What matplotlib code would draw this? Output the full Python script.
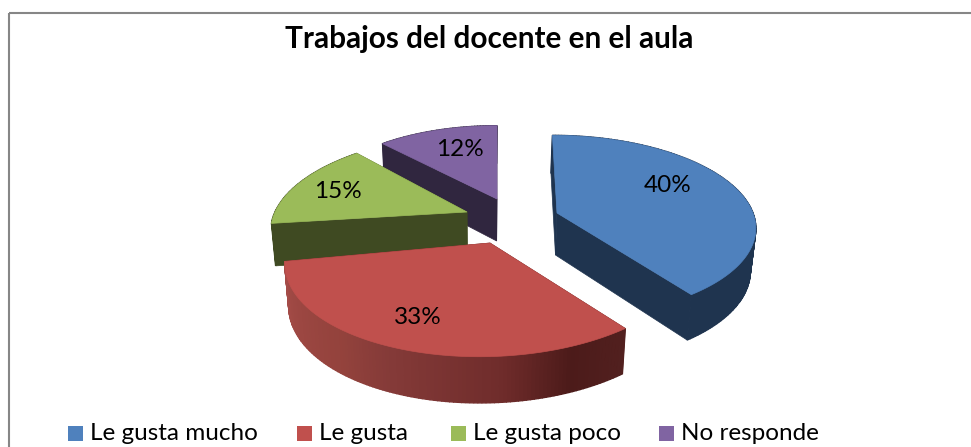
import numpy as np
import matplotlib
matplotlib.use('Agg')
import matplotlib.pyplot as plt
from matplotlib.patches import Polygon, Rectangle

# datos
categorias = ['Le gusta mucho', 'Le gusta', 'Le gusta poco', 'No responde']
valores = [40, 33, 15, 12]
etiquetas = ['40%', '33%', '15%', '12%']
titulo = 'Trabajos del docente en el aula'

COLORES = ['#4f81bd', '#c0504d', '#9bbb59', '#8064a2']
LATERAL = ['#1f344f', '#4f1b18', '#3f4a22', '#30263f']

# apice de cada porcion (pixeles) y centro de cada etiqueta
APICE = [(557, 213), (490, 243), (467, 212), (497, 199)]
POS_ETIQ = [(668, 186), (418, 317), (338, 191), (460, 149)]
POS_LEY = [68, 297, 451, 659]

# ajuste de cada porcion: ancho, alto, inclinacion, sesgo
ANCHO = [196, 203, 192, 185]
FONDO = [89, 97, 89, 84]
INCL = [0, 6, 0, 0]
SESGO = [4.6, 0, -12, 0]

K = 0.146
ALTO = 42

plt.rcParams['font.family'] = ['Lato', 'DejaVu Sans']

fig = plt.figure(figsize=(9.71, 4.47), dpi=100, facecolor='white')
ax = fig.add_axes([0, 0, 1, 1])
ax.set_xlim(0, 971)
ax.set_ylim(447, 0)
ax.axis('off')


def proyectar(i, ang, radio, abajo=False):
    # angulo en sentido horario desde arriba, perspectiva simple
    X = radio * np.sin(ang)
    Y = radio * np.cos(ang)
    p = 1 / (1 + K * Y)
    x = APICE[i][0] + ANCHO[i] * X * p - SESGO[i] * Y
    y = APICE[i][1] - FONDO[i] * Y * p - INCL[i] * X
    if abajo:
        x = 480 + (x - 480) * 0.98
        y = y + ALTO * (1 - 0.1 * Y)
    return x, y


def color_rojo(ang):
    # degradado de la cara exterior de la porcion roja
    grados = np.degrees(ang)
    stops = [144, 160, 177, 205, 220, 263]
    r = np.interp(grados, stops, [0x52, 0x4c, 0x6f, 0x84, 0x93, 0xa5])
    g = np.interp(grados, stops, [0x20, 0x1b, 0x2c, 0x3a, 0x42, 0x4c])
    b = np.interp(grados, stops, [0x1f, 0x1a, 0x2b, 0x38, 0x3c, 0x48])
    return (r / 255, g / 255, b / 255)


fracciones = np.cumsum([0] + valores) / sum(valores) * 2 * np.pi
orden = [3, 2, 0, 1]  # de atras hacia adelante

for i in orden:
    ini, fin = fracciones[i], fracciones[i + 1]
    angs = np.linspace(ini, fin, int(np.degrees(fin - ini)) + 2)
    apice = proyectar(i, 0, 0)
    base = proyectar(i, 0, 0, abajo=True)

    # caras de los cortes
    for a in (ini, fin):
        cara = [apice, proyectar(i, a, 1), proyectar(i, a, 1, True), base]
        ax.add_patch(Polygon(cara, closed=True, fc=LATERAL[i], ec=LATERAL[i], lw=0.5))

    # cara exterior
    for a0, a1 in zip(angs[:-1], angs[1:]):
        cara = [proyectar(i, a0, 1), proyectar(i, a1, 1),
                proyectar(i, a1, 1, True), proyectar(i, a0, 1, True)]
        c = color_rojo((a0 + a1) / 2) if i == 1 else LATERAL[i]
        ax.add_patch(Polygon(cara, closed=True, fc=c, ec=c, lw=1.0))

    # cara superior
    tapa = [apice] + [proyectar(i, a, 1) for a in angs]
    ax.add_patch(Polygon(tapa, closed=True, fc=COLORES[i], ec=COLORES[i], lw=0.5))

for (x, y), txt in zip(POS_ETIQ, etiquetas):
    ax.text(x, y, txt, fontsize=17.5, color='black', ha='center', va='center')

ax.text(489, 39, titulo, fontsize=21.4, fontweight='bold', ha='center', va='center')

# leyenda
for x, cat, col in zip(POS_LEY, categorias, COLORES):
    ax.add_patch(Rectangle((x, 426), 15, 15, fc=col, ec='none'))
    ax.text(x + 22, 434, cat, fontsize=17.5, ha='left', va='center')

# borde del grafico
ax.plot([9, 9], [447, 13], color='#868686', lw=1.5, solid_capstyle='butt')
ax.plot([9, 971], [13, 13], color='#868686', lw=1.5, solid_capstyle='butt')

plt.savefig('out.png', dpi=100, facecolor='white')
